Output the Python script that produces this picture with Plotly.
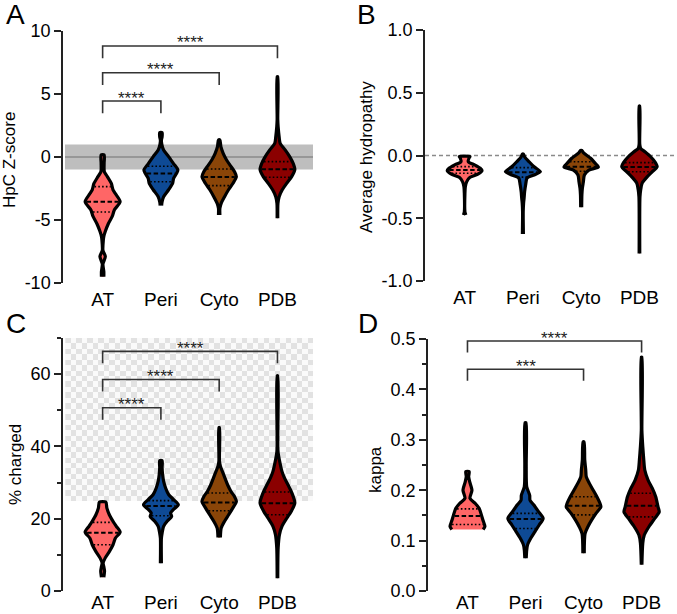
import numpy as np
import plotly.graph_objects as go

FONT = "Arial, Liberation Sans, Helvetica, sans-serif"
W, H = 677, 614

CATEGORIES = ["AT", "Peri", "Cyto", "PDB"]
COLORS = ["#FF6666", "#0E4A95", "#8A4508", "#8B0000"]

# ---------------- Panel A: HpC Z-score (violin profiles: value, relative density) ----
A_AT_Y = [-9.5, -9.1, -8.5, -7.9, -7.4, -6.6, -6.3, -5.9, -5.3, -4.7, -4.2, -3.55, -2.9, -2.6, -2.1, -1.56, -1.17, -0.5, 0.16]
A_AT_D = [2.5, 2.5, 1.5, 4.0, 1.5, 2.0, 2.5, 4.0, 7.0, 11.0, 13.0, 18.8, 14.0, 11.7, 10.0, 6.0, 3.0, 2.8, 2.8]
A_PERI_Y = [-3.85, -3.55, -3.15, -2.6, -2.1, -1.7, -1.3, -1.03, -0.5, 0.03, 0.56, 1.0, 1.35, 1.6, 1.94]
A_PERI_D = [2.0, 2.5, 4.0, 9.0, 13.0, 14.0, 17.0, 18.3, 13.7, 9.0, 4.0, 2.2, 1.8, 2.5, 2.5]
A_CYTO_Y = [-4.6, -4.07, -3.68, -3.15, -2.62, -2.1, -1.56, -1.17, -0.77, -0.24, 0.29, 0.82, 1.35]
A_CYTO_D = [2.0, 2.0, 3.3, 6.7, 10.5, 15.0, 18.5, 16.7, 13.3, 8.7, 5.3, 3.0, 2.0]
A_PDB_Y = [-4.87, -3.67, -3.15, -2.62, -2.09, -1.56, -0.98, -0.5, 0.03, 0.56, 1.08, 1.6, 2.4, 3.0, 6.37]
A_PDB_D = [1.6, 1.8, 3.0, 6.0, 10.5, 15.5, 18.7, 17.0, 13.5, 9.0, 4.0, 3.0, 2.0, 1.6, 1.6]
A_Q1 = [-4.37, -1.96, -2.27, -1.61]
A_MED = [-3.55, -1.30, -1.59, -0.98]
A_Q3 = [-2.35, -0.74, -0.95, -0.37]
A_TICKS = [-10, -5, 0, 5, 10]
A_TICKTEXT = ["-10", "-5", "0", "5", "10"]
A_BR_PAIRS = [(0, 1), (0, 2), (0, 3)]
A_BR_HEIGHTS = [4.44, 6.69, 8.81]
A_BR_LABELS = ["****", "****", "****"]

# ---------------- Panel B: Average hydropathy ----------------
B_AT_Y = [-0.474, -0.45, -0.30, -0.25, -0.21, -0.174, -0.147, -0.12, -0.10, -0.076, -0.05, -0.02, -0.008]
B_AT_D = [2.5, 1.6, 1.6, 2.0, 3.3, 6.7, 15.0, 18.7, 16.7, 11.7, 5.0, 5.7, 6.7]
B_PERI_Y = [-0.625, -0.45, -0.38, -0.34, -0.29, -0.235, -0.18, -0.155, -0.129, -0.09, -0.05, -0.01, 0.012]
B_PERI_D = [1.8, 1.6, 2.0, 2.5, 3.0, 4.0, 5.5, 12.5, 18.8, 12.5, 7.5, 3.0, 1.8]
B_CYTO_Y = [-0.413, -0.315, -0.26, -0.21, -0.155, -0.116, -0.092, -0.062, -0.022, 0.018, 0.04]
B_CYTO_D = [1.8, 2.0, 2.5, 3.5, 4.5, 9.0, 18.5, 15.3, 10.8, 4.0, 2.0]
B_PDB_Y = [-0.78, -0.33, -0.275, -0.22, -0.17, -0.13, -0.09, -0.05, -0.01, 0.03, 0.057, 0.09, 0.394]
B_PDB_D = [1.6, 1.8, 2.5, 4.0, 9.0, 14.0, 19.0, 16.7, 12.5, 6.8, 2.5, 1.6, 1.6]
B_Q1 = [-0.142, -0.172, -0.125, -0.13]
B_MED = [-0.115, -0.134, -0.09, -0.092]
B_Q3 = [-0.089, -0.097, -0.05, -0.057]
B_TICKS = [-1.0, -0.5, 0.0, 0.5, 1.0]
B_TICKTEXT = ["-1.0", "-0.5", "0.0", "0.5", "1.0"]

# ---------------- Panel C: % charged ----------------
C_AT_Y = [3.8, 4.4, 5.5, 6.6, 7.7, 9.1, 10.9, 12.8, 14.6, 16.3, 17.9, 19.3, 21.1, 23.0, 24.6]
C_AT_D = [2.5, 2.8, 3.2, 2.6, 1.8, 3.8, 8.0, 11.7, 14.0, 18.8, 15.0, 11.7, 8.0, 5.5, 4.5]
C_PERI_Y = [7.7, 14.6, 16.0, 17.9, 19.3, 20.6, 21.6, 22.5, 23.9, 25.3, 26.7, 28.5, 30.4, 32.2, 34.1, 36.1]
C_PERI_D = [1.8, 1.8, 2.5, 4.0, 7.5, 12.0, 11.0, 13.7, 18.7, 14.0, 9.0, 6.0, 4.0, 3.0, 2.5, 2.5]
C_CYTO_Y = [14.8, 17.4, 19.3, 21.1, 23.0, 24.8, 26.2, 27.6, 29.4, 31.3, 33.1, 34.5, 35.9, 45.2]
C_CYTO_D = [2.5, 3.3, 6.7, 10.8, 15.0, 18.5, 16.5, 13.0, 9.7, 7.0, 4.5, 2.5, 1.6, 1.6]
C_PDB_Y = [3.5, 11.9, 15.6, 17.9, 20.2, 22.0, 24.4, 27.1, 29.4, 31.3, 33.1, 35.9, 38.7, 59.5]
C_PDB_D = [1.6, 2.0, 3.3, 5.8, 10.8, 15.0, 18.7, 15.8, 11.8, 8.3, 5.8, 3.5, 1.8, 1.6]
C_Q1 = [12.8, 20.8, 22.2, 21.1]
C_MED = [16.1, 23.5, 24.5, 24.3]
C_Q3 = [19.0, 25.0, 27.1, 27.4]
C_TICKS = [0, 20, 40, 60]
C_MINOR = [10, 30, 50, 70]
C_BR_PAIRS = [(0, 1), (0, 2), (0, 3)]
C_BR_HEIGHTS = [50.7, 58.5, 66.3]
C_BR_LABELS = ["****", "****", "****"]

# ---------------- Panel D: kappa ----------------
D_AT_Y = [0.122, 0.128, 0.141, 0.151, 0.164, 0.174, 0.184, 0.2, 0.217, 0.227, 0.237]
D_AT_D = [17.0, 18.8, 16.8, 15.3, 13.0, 9.0, 3.8, 5.8, 3.5, 2.5, 3.0]
D_PERI_Y = [0.065, 0.081, 0.091, 0.105, 0.118, 0.131, 0.144, 0.157, 0.171, 0.18, 0.19, 0.207, 0.25, 0.334]
D_PERI_D = [2.0, 2.5, 3.3, 6.7, 10.8, 15.0, 19.0, 14.5, 9.5, 5.8, 5.5, 2.5, 2.0, 1.8]
D_CYTO_Y = [0.075, 0.114, 0.128, 0.141, 0.154, 0.167, 0.174, 0.187, 0.2, 0.214, 0.227, 0.24, 0.26, 0.296]
D_CYTO_D = [2.0, 2.8, 5.8, 9.5, 13.8, 18.7, 17.8, 14.7, 11.0, 7.0, 4.0, 3.5, 2.5, 1.8]
D_PDB_Y = [0.052, 0.095, 0.111, 0.128, 0.144, 0.157, 0.167, 0.187, 0.204, 0.22, 0.24, 0.26, 0.286, 0.319, 0.464]
D_PDB_D = [1.6, 2.5, 4.0, 8.8, 14.5, 19.0, 17.8, 15.5, 12.0, 7.8, 4.5, 3.5, 2.5, 1.6, 1.6]
D_Q1 = [0.132, 0.124, 0.151, 0.147]
D_MED = [0.149, 0.143, 0.169, 0.169]
D_Q3 = [0.163, 0.154, 0.187, 0.194]
D_TICKS = [0.0, 0.1, 0.2, 0.3, 0.4, 0.5]
D_TICKTEXT = ["0.0", "0.1", "0.2", "0.3", "0.4", "0.5"]
D_MINOR = [0.05, 0.15, 0.25, 0.35, 0.45]
D_BR_PAIRS = [(0, 2), (0, 3)]
D_BR_HEIGHTS = [0.44, 0.496]
D_BR_LABELS = ["***", "****"]

# ---------------- drawing helpers ----------------
PX_PER_UNIT = 58.3      # horizontal pixels per category step
OUTLINE = 3.2
XR = [-0.68, 3.61]

fig = go.Figure()


def px(x):
    return x / W


def py(y):
    return 1 - y / H


def add_violins(n, ys_list, ds_list, q1, med, q3):
    xa, ya = ("x%d" % n if n > 1 else "x"), ("y%d" % n if n > 1 else "y")
    for i, (ys, ds) in enumerate(zip(ys_list, ds_list)):
        ys = np.asarray(ys, float)
        ds = np.asarray(ds, float)
        hw = np.maximum(ds - OUTLINE / 2 + 0.3, 0.3) / PX_PER_UNIT
        xs = np.concatenate([i + hw, (i - hw)[::-1]])
        yy = np.concatenate([ys, ys[::-1]])
        fig.add_trace(go.Scatter(
            x=xs, y=yy, mode="lines", fill="toself", fillcolor=COLORS[i],
            line=dict(color="black", width=OUTLINE, shape="spline", smoothing=0.7),
            xaxis=xa, yaxis=ya, hoverinfo="skip", showlegend=False))
        for val, dash, lw in ((q1[i], "1.6px,2.2px", 1.6), (q3[i], "1.6px,2.2px", 1.6),
                              (med[i], "4.5px,2.5px", 2.0)):
            w = max(np.interp(val, ys, ds) - OUTLINE + 0.5, 0.5) / PX_PER_UNIT
            fig.add_trace(go.Scatter(
                x=[i - w, i + w], y=[val, val], mode="lines",
                line=dict(color="black", width=lw, dash=dash),
                xaxis=xa, yaxis=ya, hoverinfo="skip", showlegend=False))


def add_brackets(n, pairs, heights, labels, drop, star_size=17):
    xa, ya = ("x%d" % n if n > 1 else "x"), ("y%d" % n if n > 1 else "y")
    for (a, b), h, lab in zip(pairs, heights, labels):
        fig.add_trace(go.Scatter(
            x=[a, a, b, b], y=[h - drop, h, h, h - drop], mode="lines",
            line=dict(color="#333333", width=1.6),
            xaxis=xa, yaxis=ya, hoverinfo="skip", showlegend=False))
        fig.add_annotation(x=(a + b) / 2, y=h, xref=xa, yref=ya, text=lab,
                           showarrow=False, yanchor="middle", yshift=3,
                           font=dict(size=star_size, color="#222", family=FONT))


# checkerboard background for panel C (drawn first)
nx, ny = 45, 30
dxc = (XR[1] - (-0.64)) / nx
dyc = (70 - 25) / ny
zc = [[(i + j) % 2 for i in range(nx)] for j in range(ny)]
fig.add_trace(go.Heatmap(z=zc, x0=-0.64 + dxc / 2, dx=dxc, y0=25 + dyc / 2, dy=dyc,
                         colorscale=[[0, "#FAFAFA"], [1, "#E2E2E2"]], zmin=0, zmax=1,
                         showscale=False, hoverinfo="skip", xaxis="x3", yaxis="y3"))

add_violins(1, [A_AT_Y, A_PERI_Y, A_CYTO_Y, A_PDB_Y], [A_AT_D, A_PERI_D, A_CYTO_D, A_PDB_D], A_Q1, A_MED, A_Q3)
add_violins(2, [B_AT_Y, B_PERI_Y, B_CYTO_Y, B_PDB_Y], [B_AT_D, B_PERI_D, B_CYTO_D, B_PDB_D], B_Q1, B_MED, B_Q3)
add_violins(3, [C_AT_Y, C_PERI_Y, C_CYTO_Y, C_PDB_Y], [C_AT_D, C_PERI_D, C_CYTO_D, C_PDB_D], C_Q1, C_MED, C_Q3)
add_violins(4, [D_AT_Y, D_PERI_Y, D_CYTO_Y, D_PDB_Y], [D_AT_D, D_PERI_D, D_CYTO_D, D_PDB_D], D_Q1, D_MED, D_Q3)

add_brackets(1, A_BR_PAIRS, A_BR_HEIGHTS, A_BR_LABELS, 0.97)
add_brackets(3, C_BR_PAIRS, C_BR_HEIGHTS, C_BR_LABELS, 3.3)
add_brackets(4, D_BR_PAIRS, D_BR_HEIGHTS, D_BR_LABELS, 0.023)

# shapes: grey band (A), dashed zero line (B)
fig.add_shape(type="rect", xref="x domain", yref="y", x0=0.008, x1=1, y0=-1, y1=1,
              fillcolor="#BEBEBE", line=dict(width=0), layer="below")
fig.add_shape(type="line", xref="x domain", yref="y", x0=0.008, x1=1, y0=0, y1=0,
              line=dict(color="#8A8A8A", width=1.5), layer="below")
fig.add_shape(type="line", xref="x2 domain", yref="y2", x0=0, x1=1.01, y0=0, y1=0,
              line=dict(color="#8A8A8A", width=1.3, dash="4px,3px"), layer="below")

xcommon = dict(range=XR, tickvals=[0, 1, 2, 3], ticktext=CATEGORIES, showline=False,
               ticks="", showgrid=False, zeroline=False, fixedrange=True, automargin=False,
               tickfont=dict(size=19, color="black", family=FONT))
ycommon = dict(showline=True, linecolor="#222", linewidth=1.5, ticks="outside", ticklen=7,
               tickwidth=1.5, tickcolor="#222", showgrid=False, zeroline=False, automargin=False,
               tickfont=dict(size=18, color="black", family=FONT))

fig.update_layout(
    width=W, height=H, margin=dict(l=0, r=0, t=0, b=0, pad=0), autosize=False,
    paper_bgcolor="white", plot_bgcolor="rgba(0,0,0,0)", showlegend=False,
    font=dict(family=FONT, color="black"),
    xaxis=dict(domain=[px(63), px(313)], anchor="y", ticklabelstandoff=3, **xcommon),
    yaxis=dict(domain=[py(283), py(31)], anchor="x", range=[-10, 10],
               tickvals=A_TICKS, ticktext=A_TICKTEXT, **ycommon),
    xaxis2=dict(domain=[px(425), px(675)], anchor="y2", ticklabelstandoff=3, **xcommon),
    yaxis2=dict(domain=[py(281), py(30)], anchor="x2", range=[-1, 1],
                tickvals=B_TICKS, ticktext=B_TICKTEXT, **ycommon),
    xaxis3=dict(domain=[px(63), px(313)], anchor="y3", ticklabelstandoff=-2, **xcommon),
    yaxis3=dict(domain=[py(591), py(338)], anchor="x3", range=[0, 70],
                tickvals=C_TICKS, ticktext=[str(t) for t in C_TICKS],
                minor=dict(tickvals=C_MINOR, ticklen=4, tickwidth=1.5, tickcolor="#222", ticks="outside"),
                **ycommon),
    xaxis4=dict(domain=[px(428), px(677)], anchor="y4", ticklabelstandoff=-2, **xcommon),
    yaxis4=dict(domain=[py(591), py(339)], anchor="x4", range=[0, 0.5],
                tickvals=D_TICKS, ticktext=D_TICKTEXT,
                minor=dict(tickvals=D_MINOR, ticklen=4, tickwidth=1.5, tickcolor="#222", ticks="outside"),
                **ycommon),
)

# axis titles
for text, x, y in (("HpC Z-score", 9, 160), ("Average hydropathy", 366, 157),
                   ("% charged", 15, 465), ("kappa", 375, 470)):
    fig.add_annotation(x=px(x), y=py(y), xref="paper", yref="paper", text=text,
                       textangle=-90, showarrow=False, xanchor="center", yanchor="middle",
                       font=dict(size=17, color="black", family=FONT))

# panel letters
for text, x, y in (("A", 15, 0), ("B", 367, 0), ("C", 16, 309), ("D", 368, 309)):
    fig.add_annotation(x=px(x), y=py(y), xref="paper", yref="paper", text=text,
                       showarrow=False, xanchor="center", yanchor="top", yshift=3,
                       font=dict(size=28, color="black", family=FONT))

fig.write_html("out.html", config={"displayModeBar": False},
               post_script="document.body.style.margin='0';document.body.style.overflow='hidden';")
